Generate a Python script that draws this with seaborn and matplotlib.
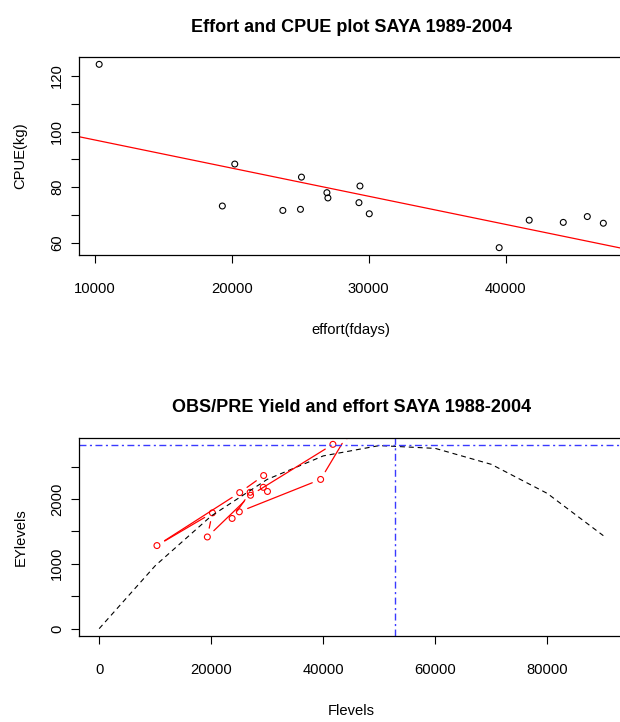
import numpy as np
import matplotlib
matplotlib.use("Agg")
import matplotlib.pyplot as plt
import seaborn as sns

sns.set_style("ticks")
plt.rcParams['font.family'] = ['Liberation Sans', 'DejaVu Sans']
plt.rcParams['text.color'] = 'black'
plt.rcParams['axes.labelcolor'] = 'black'

# SAYA observed data, year order 1989-2004
years = list(range(1989, 2005))
effort = [29363, 25091, 10315, 20219, 19312, 27023, 41726, 45969,
          47140, 44214, 39532, 25018, 23731, 26950, 29290, 30044]
cpue = [80.4, 83.6, 124.2, 88.3, 73.2, 76.1, 68.1, 69.4,
        67.0, 67.3, 58.2, 72.0, 71.6, 78.0, 74.4, 70.4]

# CPUE = a + b*effort (Schaefer)
cpue_intercept = 107.1
cpue_slope = -0.001013

Flevels = [0, 10000, 20000, 30000, 40000, 50000, 60000, 70000, 80000, 90000]

effort = np.array(effort, dtype=float)
cpue = np.array(cpue)
yield_t = effort * cpue / 1000
F = np.array(Flevels, dtype=float)
EYlevels = (cpue_intercept * F + cpue_slope * F ** 2) / 1000
F_msy = -cpue_intercept / (2 * cpue_slope)
MSY = -cpue_intercept ** 2 / (4 * cpue_slope) / 1000

FS = 10.6
BLUE = '#3a3aff'


def rlim(lo, hi):
    pad = (hi - lo) * 0.04
    return lo - pad, hi + pad


def style_axes(ax):
    for s in ax.spines.values():
        s.set_linewidth(0.9)
        s.set_color('black')
    ax.tick_params(direction='out', length=5.8, width=0.8, labelsize=FS,
                   colors='black')
    ax.tick_params(axis='x', pad=13.5)
    ax.tick_params(axis='y', pad=5)
    for lbl in ax.get_yticklabels():
        lbl.set_rotation(90)
        lbl.set_va('center')


def type_b(ax, x, y, color, gap=9):
    # R type="b": segments between points with a gap round each point
    tr = ax.transData
    inv = tr.inverted()
    pts = tr.transform(np.column_stack([x, y]))
    for p0, p1 in zip(pts[:-1], pts[1:]):
        d = p1 - p0
        L = np.hypot(*d)
        if L <= 2 * gap:
            continue
        u = d / L
        a = inv.transform(p0 + gap * u)
        b = inv.transform(p1 - gap * u)
        ax.plot([a[0], b[0]], [a[1], b[1]], color=color, lw=0.9)


fig = plt.figure(figsize=(6.2, 7.22), dpi=100)
ax1 = fig.add_axes([79 / 620, (722 - 255) / 722, 544.5 / 620, 198 / 722])
ax2 = fig.add_axes([79 / 620, (722 - 636) / 722, 544.5 / 620, 198.3 / 722])

# --- top panel: effort vs CPUE
sns.scatterplot(x=effort, y=cpue, ax=ax1, marker='o', s=18, facecolor='none',
                edgecolor='black', linewidth=0.8, legend=False)
ax1.set_xlim(*rlim(effort.min(), effort.max()))
ax1.set_ylim(*rlim(cpue.min(), cpue.max()))
ax1.axline((0, cpue_intercept), slope=cpue_slope, color='red', lw=0.9)
ax1.set_xticks([10000, 20000, 30000, 40000])
ax1.set_xticklabels(['10000', '20000', '30000', '40000'])
ax1.set_yticks([60, 70, 80, 90, 100, 110, 120])
ax1.set_yticklabels(['60', '', '80', '', '100', '', '120'])
style_axes(ax1)
ax1.set_xlabel('effort(fdays)', fontsize=FS)
ax1.set_ylabel('CPUE(kg)', fontsize=FS)
ax1.xaxis.label.set_va('baseline')
ax1.yaxis.label.set_va('baseline')
ax1.xaxis.set_label_coords(0.5, -0.399)
ax1.yaxis.set_label_coords(-0.1, 0.5)
ax1.text(0.5, 1.128, 'Effort and CPUE plot SAYA 1989-2004', transform=ax1.transAxes,
         ha='center', va='baseline', fontsize=13, fontweight='bold')

# --- bottom panel: observed / predicted yield
ax2.set_xlim(*rlim(0, F.max()))
ax2.set_ylim(*rlim(0, MSY))
sns.lineplot(x=F, y=EYlevels, ax=ax2, color='black', lw=0.8,
             linestyle=(0, (4.5, 3.5)), errorbar=None)
sns.scatterplot(x=effort, y=yield_t, ax=ax2, marker='o', s=18, facecolor='none',
                edgecolor='red', linewidth=0.8, legend=False)
type_b(ax2, effort, yield_t, 'red')
ax2.axhline(MSY, color=BLUE, lw=1.0, linestyle=(0, (5, 2.5, 1.5, 2.5)))
ax2.axvline(F_msy, color=BLUE, lw=1.0, linestyle=(0, (5, 2.5, 1.5, 2.5)))
ax2.set_xticks([0, 20000, 40000, 60000, 80000])
ax2.set_xticklabels(['0', '20000', '40000', '60000', '80000'])
ax2.set_yticks([0, 500, 1000, 1500, 2000, 2500])
ax2.set_yticklabels(['0', '', '1000', '', '2000', ''])
style_axes(ax2)
ax2.set_xlabel('Flevels', fontsize=FS)
ax2.set_ylabel('EYlevels', fontsize=FS)
ax2.xaxis.label.set_va('baseline')
ax2.yaxis.label.set_va('baseline')
ax2.xaxis.set_label_coords(0.5, -0.399)
ax2.yaxis.set_label_coords(-0.1, 0.5)
ax2.text(0.5, 1.128, 'OBS/PRE Yield and effort SAYA 1988-2004', transform=ax2.transAxes,
         ha='center', va='baseline', fontsize=13, fontweight='bold')

fig.savefig('out.png', dpi=100)
